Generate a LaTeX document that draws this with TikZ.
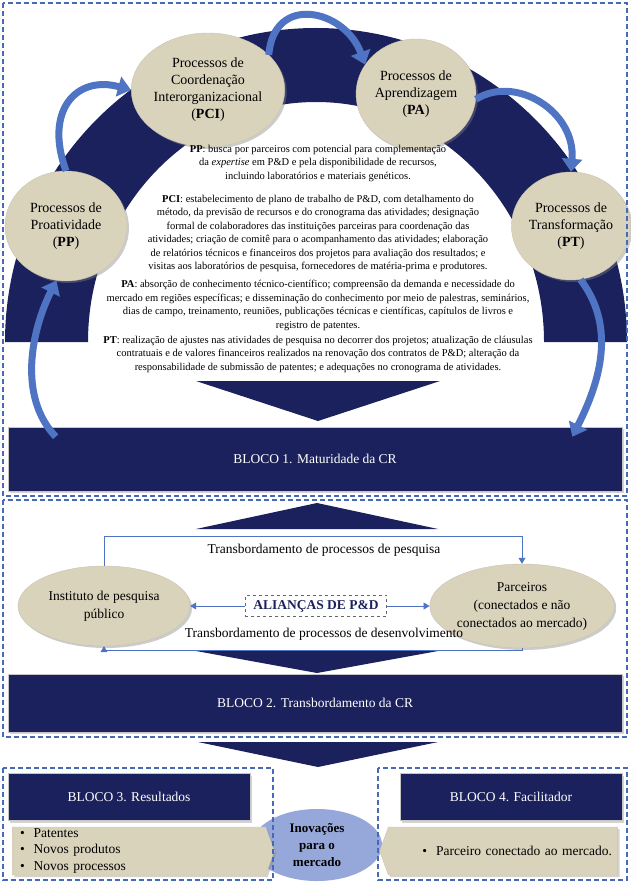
\documentclass[tikz,border=0pt]{standalone}
\usepackage{fontspec}
\setmainfont{Liberation Serif}
\usepackage{tikz}
\usetikzlibrary{positioning, arrows.meta, calc, shapes.geometric, shapes.symbols, shadows}
\definecolor{crnavy}{RGB}{27, 33, 92}
\definecolor{crbeige}{RGB}{218, 211, 188}
\definecolor{crblue}{RGB}{80, 116, 196}
\definecolor{crdash}{RGB}{72, 106, 182}
\definecolor{crlilac}{RGB}{150, 168, 218}
\tikzset{
  panel/.style={draw=crdash, line width=1.1pt, dash pattern=on 5pt off 3pt},
  bar/.style={fill=crnavy, draw=gray!45, line width=0.6pt, text=white,
              font=\fontsize{13.5}{16}\selectfont,
              drop shadow={shadow xshift=2pt, shadow yshift=-2pt, opacity=0.35}},
  proc/.style={ellipse, fill=crbeige, draw=crbeige!80!gray, align=center,
               inner sep=0pt, font=\fontsize{14}{17}\selectfont,
               drop shadow={shadow xshift=2pt, shadow yshift=-2pt, opacity=0.4}},
  actor/.style={proc, font=\fontsize{13.5}{18}\selectfont},
  txt/.style={align=center, inner sep=0pt, font=\fontsize{10.5}{13.5}\selectfont},
  lbl/.style={font=\fontsize{13.5}{16}\selectfont, inner sep=1pt},
  loop/.style={-{Triangle[length=13pt, width=20pt]}, line width=7pt, crblue},
  link/.style={-{Triangle[length=6pt, width=7pt]}, thick, crblue},
  chev/.style={fill=crnavy},
  item/.style={signal, fill=crbeige, draw=crbeige!85!gray, minimum height=48pt,
               font=\fontsize{13.5}{16.5}\selectfont, inner sep=0pt,
               drop shadow={shadow xshift=2pt, shadow yshift=-2pt, opacity=0.35}},
}

\begin{document}
\begin{tikzpicture}[x=1pt, y=-1pt]
  \useasboundingbox (0,0) rectangle (630,882);
  \def\ry{342}

  % BLOCO 1
  \fill[crnavy] (5,\ry) arc[start angle=180, end angle=360, x radius=311, y radius=314]
    -- (544,\ry) arc[start angle=0, end angle=-180, x radius=228, y radius=240] -- cycle;

  \node[proc, minimum width=122pt, minimum height=114pt] (pci) at (208,90)
    {Processos de\\Coordenação\\Interorganizacional\\(\textbf{PCI})};
  \node[proc, minimum width=120pt, minimum height=110pt] (pa) at (416,94)
    {Processos de\\Aprendizagem\\(\textbf{PA})};
  \node[proc, minimum width=122pt, minimum height=110pt] (pp) at (66,226)
    {Processos de\\Proatividade\\(\textbf{PP})};
  \node[proc, minimum width=112pt, minimum height=108pt] (pt) at (571,226)
    {Processos de\\Transformação\\(\textbf{PT})};

  \node[txt, anchor=north] (pptxt) at (318,145)
    {\textbf{PP}: busca por parceiros com potencial para complementação\\
     da \textit{expertise} em P\&D e pela disponibilidade de recursos,\\
     incluindo laboratórios e materiais genéticos.};
  \node[txt, below=13pt of pptxt] (pcitxt)
    {\textbf{PCI}: estabelecimento de plano de trabalho de P\&D, com detalhamento do\\
     método, da previsão de recursos e do cronograma das atividades; designação\\
     formal de colaboradores das instituições parceiras para coordenação das\\
     atividades; criação de comitê para o acompanhamento das atividades; elaboração\\
     de relatórios técnicos e financeiros dos projetos para avaliação dos resultados; e\\
     visitas aos laboratórios de pesquisa, fornecedores de matéria-prima e produtores.};
  \node[txt, below=8pt of pcitxt] (patxt)
    {\textbf{PA}: absorção de conhecimento técnico-científico; compreensão da demanda e necessidade do\\
     mercado em regiões específicas; e disseminação do conhecimento por meio de palestras, seminários,\\
     dias de campo, treinamento, reuniões, publicações técnicas e científicas, capítulos de livros e\\
     registro de patentes.};
  \node[txt, below=5pt of patxt] (pttxt)
    {\textbf{PT}: realização de ajustes nas atividades de pesquisa no decorrer dos projetos; atualização de cláusulas\\
     contratuais e de valores financeiros realizados na renovação dos contratos de P\&D; alteração da\\
     responsabilidade de submissão de patentes; e adequações no cronograma de atividades.};

  \fill[chev] (196,381) -- (440,381) -- (318,421) -- cycle;
  \node[bar, minimum width=614pt, minimum height=64pt] (bloco1) at (315,459)
    {BLOCO 1. Maturidade da CR};
  \coordinate (b1l) at ($(bloco1.north west)+(48,10)$);
  \coordinate (b1r) at ($(bloco1.north east)+(-50,10)$);

  \draw[loop] (pp.north) .. controls +(-22,-60) and +(-55,-15) .. (pci.west);
  \draw[loop] (pci.30) .. controls +(5,-62) and +(-20,-55) .. (pa.150);
  \draw[loop] (pa.-5) .. controls +(40,-25) and +(5,-60) .. (pt.north);
  \draw[loop] (pt.-80) .. controls +(38,50) and +(25,-50) .. (b1r);
  \draw[loop] (b1l) .. controls +(-38,-40) and +(-25,50) .. (pp.-100);

  \draw[panel] (3,3) rectangle (627,496);

  % BLOCO 2
  \fill[chev] (196,529) -- (438,529) -- (317,503) -- cycle;
  \node[actor, minimum width=172pt, minimum height=80pt] (inst) at (104,606)
    {Instituto de pesquisa\\público};
  \node[actor, minimum width=184pt, minimum height=84pt] (parc) at (522,606)
    {Parceiros\\(conectados e não\\conectados ao mercado)};
  \node[lbl, draw=gray!80!black, dashed, thick, text=crnavy, font=\fontsize{13.5}{16}\bfseries,
        inner xsep=8pt, inner ysep=5pt] (alianca) at (316,606) {ALIANÇAS DE P\&D};
  \node[lbl] (pesq) at (324,550) {Transbordamento de processos de pesquisa};
  \node[lbl] (desenv) at (324,634) {Transbordamento de processos de desenvolvimento};

  \draw[link] (inst.north) -- ++(0,-29) -| (parc.north);
  \draw[link] (parc.south) -- ++(0,2) -| (inst.south);
  \draw[link] (alianca) -- (inst);
  \draw[link] (alianca) -- (parc);

  \fill[chev] (196,651) -- (438,651) -- (317,673) -- cycle;
  \node[bar, minimum width=614pt, minimum height=58pt] (bloco2) at (315,703)
    {BLOCO 2. Transbordamento da CR};
  \draw[panel] (3,500) rectangle (627,737);

  % BLOCOS 3 e 4
  \fill[chev] (198,742) -- (438,742) -- (318,767) -- cycle;
  \node[ellipse, fill=crlilac, minimum width=130pt, minimum height=72pt, align=center,
        inner sep=0pt, font=\fontsize{13}{17}\bfseries] (inov) at (317,845)
    {Inovações\\para o\\mercado};
  \node[item, signal to=east, signal pointer angle=140, minimum width=262pt,
        text width=238pt, align=left] (res) at (139,851)
    {\textbullet~~Patentes\\\textbullet~~Novos produtos\\\textbullet~~Novos processos};
  \node[item, signal to=west, signal pointer angle=140, minimum width=238pt,
        text width=218pt, align=right] (fac) at (503,851)
    {\textbullet~~Parceiro conectado ao mercado.};
  \node[bar, minimum width=242pt, minimum height=47pt] (bloco3) at (129,797)
    {BLOCO 3. Resultados};
  \node[bar, minimum width=222pt, minimum height=47pt] (bloco4) at (511,797)
    {BLOCO 4. Facilitador};
  \draw[panel] (3,768) rectangle (273,880);
  \draw[panel] (378,768) rectangle (627,880);
\end{tikzpicture}
\end{document}
